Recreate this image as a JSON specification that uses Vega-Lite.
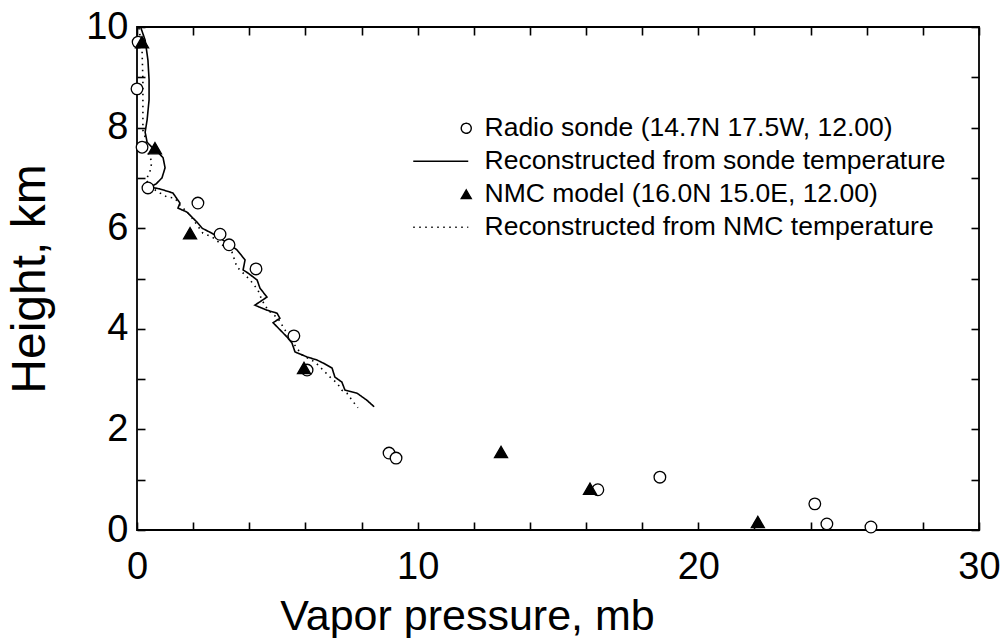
{
  "$schema": "https://vega.github.io/schema/vega-lite/v6.json",
  "width": 842,
  "height": 503,
  "autosize": "none",
  "padding": {"left": 137, "top": 27, "right": 26, "bottom": 108},
  "background": "white",
  "config": {
    "view": {"stroke": "black", "strokeWidth": 1.8},
    "font": "Liberation Sans",
    "axis": {"grid": false, "domain": false, "tickColor": "black", "tickWidth": 1.6, "labelColor": "black", "titleColor": "black", "labelFont": "Liberation Sans", "titleFont": "Liberation Sans", "titleFontWeight": "normal", "labelFlush": false, "labelOverlap": false},
    "legend": {"labelFont": "Liberation Sans", "labelFontSize": 26.5, "labelColor": "black", "labelLimit": 0, "symbolSize": 100, "symbolStrokeColor": "black", "symbolStrokeWidth": 1.4, "padding": 0}
  },
  "datasets": {
    "lines": [
      {"series": "Reconstructed from sonde temperature", "i": 1, "e": 0.14, "h": 9.98},
      {"series": "Reconstructed from sonde temperature", "i": 2, "e": 0.29, "h": 9.74},
      {"series": "Reconstructed from sonde temperature", "i": 3, "e": 0.39, "h": 9.34},
      {"series": "Reconstructed from sonde temperature", "i": 4, "e": 0.43, "h": 8.95},
      {"series": "Reconstructed from sonde temperature", "i": 5, "e": 0.43, "h": 8.55},
      {"series": "Reconstructed from sonde temperature", "i": 6, "e": 0.36, "h": 8.15},
      {"series": "Reconstructed from sonde temperature", "i": 7, "e": 0.29, "h": 7.91},
      {"series": "Reconstructed from sonde temperature", "i": 8, "e": 0.36, "h": 7.71},
      {"series": "Reconstructed from sonde temperature", "i": 9, "e": 0.53, "h": 7.61},
      {"series": "Reconstructed from sonde temperature", "i": 10, "e": 0.75, "h": 7.51},
      {"series": "Reconstructed from sonde temperature", "i": 11, "e": 0.93, "h": 7.40},
      {"series": "Reconstructed from sonde temperature", "i": 12, "e": 1.0, "h": 7.20},
      {"series": "Reconstructed from sonde temperature", "i": 13, "e": 0.89, "h": 7.0},
      {"series": "Reconstructed from sonde temperature", "i": 14, "e": 0.68, "h": 6.88},
      {"series": "Reconstructed from sonde temperature", "i": 15, "e": 0.46, "h": 6.82},
      {"series": "Reconstructed from sonde temperature", "i": 16, "e": 0.82, "h": 6.78},
      {"series": "Reconstructed from sonde temperature", "i": 17, "e": 1.28, "h": 6.70},
      {"series": "Reconstructed from sonde temperature", "i": 18, "e": 1.53, "h": 6.50},
      {"series": "Reconstructed from sonde temperature", "i": 19, "e": 1.46, "h": 6.40},
      {"series": "Reconstructed from sonde temperature", "i": 20, "e": 1.78, "h": 6.32},
      {"series": "Reconstructed from sonde temperature", "i": 21, "e": 2.14, "h": 6.12},
      {"series": "Reconstructed from sonde temperature", "i": 22, "e": 2.32, "h": 6.0},
      {"series": "Reconstructed from sonde temperature", "i": 23, "e": 2.60, "h": 5.92},
      {"series": "Reconstructed from sonde temperature", "i": 24, "e": 2.89, "h": 5.83},
      {"series": "Reconstructed from sonde temperature", "i": 25, "e": 3.21, "h": 5.71},
      {"series": "Reconstructed from sonde temperature", "i": 26, "e": 3.56, "h": 5.57},
      {"series": "Reconstructed from sonde temperature", "i": 27, "e": 3.85, "h": 5.37},
      {"series": "Reconstructed from sonde temperature", "i": 28, "e": 3.78, "h": 5.17},
      {"series": "Reconstructed from sonde temperature", "i": 29, "e": 3.95, "h": 5.11},
      {"series": "Reconstructed from sonde temperature", "i": 30, "e": 4.28, "h": 4.97},
      {"series": "Reconstructed from sonde temperature", "i": 31, "e": 4.38, "h": 4.81},
      {"series": "Reconstructed from sonde temperature", "i": 32, "e": 4.63, "h": 4.63},
      {"series": "Reconstructed from sonde temperature", "i": 33, "e": 4.20, "h": 4.47},
      {"series": "Reconstructed from sonde temperature", "i": 34, "e": 4.63, "h": 4.37},
      {"series": "Reconstructed from sonde temperature", "i": 35, "e": 4.99, "h": 4.31},
      {"series": "Reconstructed from sonde temperature", "i": 36, "e": 5.09, "h": 4.21},
      {"series": "Reconstructed from sonde temperature", "i": 37, "e": 4.85, "h": 4.12},
      {"series": "Reconstructed from sonde temperature", "i": 38, "e": 4.99, "h": 4.04},
      {"series": "Reconstructed from sonde temperature", "i": 39, "e": 5.34, "h": 3.84},
      {"series": "Reconstructed from sonde temperature", "i": 40, "e": 5.52, "h": 3.72},
      {"series": "Reconstructed from sonde temperature", "i": 41, "e": 5.63, "h": 3.54},
      {"series": "Reconstructed from sonde temperature", "i": 42, "e": 6.06, "h": 3.44},
      {"series": "Reconstructed from sonde temperature", "i": 43, "e": 6.41, "h": 3.38},
      {"series": "Reconstructed from sonde temperature", "i": 44, "e": 6.63, "h": 3.32},
      {"series": "Reconstructed from sonde temperature", "i": 45, "e": 6.95, "h": 3.22},
      {"series": "Reconstructed from sonde temperature", "i": 46, "e": 7.05, "h": 3.04},
      {"series": "Reconstructed from sonde temperature", "i": 47, "e": 7.30, "h": 2.94},
      {"series": "Reconstructed from sonde temperature", "i": 48, "e": 7.41, "h": 2.78},
      {"series": "Reconstructed from sonde temperature", "i": 49, "e": 7.84, "h": 2.72},
      {"series": "Reconstructed from sonde temperature", "i": 50, "e": 8.19, "h": 2.58},
      {"series": "Reconstructed from sonde temperature", "i": 51, "e": 8.45, "h": 2.45},
      {"series": "Reconstructed from NMC temperature", "i": 1, "e": 0.07, "h": 9.98},
      {"series": "Reconstructed from NMC temperature", "i": 2, "e": 0.18, "h": 9.54},
      {"series": "Reconstructed from NMC temperature", "i": 3, "e": 0.21, "h": 8.95},
      {"series": "Reconstructed from NMC temperature", "i": 4, "e": 0.21, "h": 8.35},
      {"series": "Reconstructed from NMC temperature", "i": 5, "e": 0.21, "h": 7.95},
      {"series": "Reconstructed from NMC temperature", "i": 6, "e": 0.29, "h": 7.81},
      {"series": "Reconstructed from NMC temperature", "i": 7, "e": 0.39, "h": 7.50},
      {"series": "Reconstructed from NMC temperature", "i": 8, "e": 0.53, "h": 7.32},
      {"series": "Reconstructed from NMC temperature", "i": 9, "e": 0.46, "h": 7.12},
      {"series": "Reconstructed from NMC temperature", "i": 10, "e": 0.32, "h": 6.96},
      {"series": "Reconstructed from NMC temperature", "i": 11, "e": 0.53, "h": 6.80},
      {"series": "Reconstructed from NMC temperature", "i": 12, "e": 0.82, "h": 6.70},
      {"series": "Reconstructed from NMC temperature", "i": 13, "e": 1.07, "h": 6.62},
      {"series": "Reconstructed from NMC temperature", "i": 14, "e": 1.35, "h": 6.60},
      {"series": "Reconstructed from NMC temperature", "i": 15, "e": 1.53, "h": 6.46},
      {"series": "Reconstructed from NMC temperature", "i": 16, "e": 1.89, "h": 6.26},
      {"series": "Reconstructed from NMC temperature", "i": 17, "e": 2.35, "h": 5.90},
      {"series": "Reconstructed from NMC temperature", "i": 18, "e": 2.67, "h": 5.83},
      {"series": "Reconstructed from NMC temperature", "i": 19, "e": 3.03, "h": 5.67},
      {"series": "Reconstructed from NMC temperature", "i": 20, "e": 3.38, "h": 5.53},
      {"series": "Reconstructed from NMC temperature", "i": 21, "e": 3.56, "h": 5.23},
      {"series": "Reconstructed from NMC temperature", "i": 22, "e": 3.67, "h": 5.17},
      {"series": "Reconstructed from NMC temperature", "i": 23, "e": 4.03, "h": 4.97},
      {"series": "Reconstructed from NMC temperature", "i": 24, "e": 4.31, "h": 4.77},
      {"series": "Reconstructed from NMC temperature", "i": 25, "e": 4.45, "h": 4.57},
      {"series": "Reconstructed from NMC temperature", "i": 26, "e": 4.67, "h": 4.37},
      {"series": "Reconstructed from NMC temperature", "i": 27, "e": 5.02, "h": 4.21},
      {"series": "Reconstructed from NMC temperature", "i": 28, "e": 5.27, "h": 3.98},
      {"series": "Reconstructed from NMC temperature", "i": 29, "e": 5.56, "h": 3.72},
      {"series": "Reconstructed from NMC temperature", "i": 30, "e": 5.88, "h": 3.48},
      {"series": "Reconstructed from NMC temperature", "i": 31, "e": 6.34, "h": 3.34},
      {"series": "Reconstructed from NMC temperature", "i": 32, "e": 6.63, "h": 3.18},
      {"series": "Reconstructed from NMC temperature", "i": 33, "e": 6.88, "h": 3.04},
      {"series": "Reconstructed from NMC temperature", "i": 34, "e": 7.13, "h": 2.92},
      {"series": "Reconstructed from NMC temperature", "i": 35, "e": 7.30, "h": 2.78},
      {"series": "Reconstructed from NMC temperature", "i": 36, "e": 7.48, "h": 2.72},
      {"series": "Reconstructed from NMC temperature", "i": 37, "e": 7.66, "h": 2.58},
      {"series": "Reconstructed from NMC temperature", "i": 38, "e": 7.87, "h": 2.43}
    ],
    "pts": [
      {"series": "Radio sonde (14.7N 17.5W, 12.00)", "e": 0.04, "h": 9.70},
      {"series": "Radio sonde (14.7N 17.5W, 12.00)", "e": 0.0, "h": 8.77},
      {"series": "Radio sonde (14.7N 17.5W, 12.00)", "e": 0.18, "h": 7.61},
      {"series": "Radio sonde (14.7N 17.5W, 12.00)", "e": 0.39, "h": 6.80},
      {"series": "Radio sonde (14.7N 17.5W, 12.00)", "e": 2.17, "h": 6.50},
      {"series": "Radio sonde (14.7N 17.5W, 12.00)", "e": 2.96, "h": 5.88},
      {"series": "Radio sonde (14.7N 17.5W, 12.00)", "e": 3.28, "h": 5.67},
      {"series": "Radio sonde (14.7N 17.5W, 12.00)", "e": 4.24, "h": 5.19},
      {"series": "Radio sonde (14.7N 17.5W, 12.00)", "e": 5.59, "h": 3.86},
      {"series": "Radio sonde (14.7N 17.5W, 12.00)", "e": 6.06, "h": 3.18},
      {"series": "Radio sonde (14.7N 17.5W, 12.00)", "e": 8.98, "h": 1.53},
      {"series": "Radio sonde (14.7N 17.5W, 12.00)", "e": 9.23, "h": 1.43},
      {"series": "Radio sonde (14.7N 17.5W, 12.00)", "e": 16.42, "h": 0.80},
      {"series": "Radio sonde (14.7N 17.5W, 12.00)", "e": 18.63, "h": 1.05},
      {"series": "Radio sonde (14.7N 17.5W, 12.00)", "e": 24.15, "h": 0.52},
      {"series": "Radio sonde (14.7N 17.5W, 12.00)", "e": 24.58, "h": 0.12},
      {"series": "Radio sonde (14.7N 17.5W, 12.00)", "e": 26.15, "h": 0.06},
      {"series": "NMC model (16.0N 15.0E, 12.00)", "e": 0.18, "h": 9.70},
      {"series": "NMC model (16.0N 15.0E, 12.00)", "e": 0.64, "h": 7.59},
      {"series": "NMC model (16.0N 15.0E, 12.00)", "e": 1.89, "h": 5.90},
      {"series": "NMC model (16.0N 15.0E, 12.00)", "e": 5.95, "h": 3.22},
      {"series": "NMC model (16.0N 15.0E, 12.00)", "e": 12.97, "h": 1.55},
      {"series": "NMC model (16.0N 15.0E, 12.00)", "e": 16.14, "h": 0.82},
      {"series": "NMC model (16.0N 15.0E, 12.00)", "e": 22.12, "h": 0.16}
    ]
  },
  "layer": [
    {
      "data": {"name": "lines"},
      "mark": {"type": "line", "color": "black", "strokeWidth": 1.6},
      "encoding": {
        "x": {"field": "e", "type": "quantitative", "scale": {"domain": [0, 30], "nice": false},
          "axis": {"orient": "bottom", "values": [0,2,4,6,8,10,12,14,16,18,20,22,24,26,28,30], "labelExpr": "datum.value % 10 === 0 ? datum.label : ''", "tickSize": -8, "labelPadding": 26, "labelFontSize": 38, "title": "Vapor pressure, mb", "titleFontSize": 43, "titlePadding": 9, "titleX": 330, "titleAnchor": "middle"}},
        "y": {"field": "h", "type": "quantitative", "scale": {"domain": [0, 10], "nice": false},
          "axis": {"orient": "left", "values": [0,1,2,3,4,5,6,7,8,9,10], "labelExpr": "datum.value % 2 === 0 ? datum.label : ''", "tickSize": -8, "labelPadding": 17, "labelFontSize": 38, "title": "Height, km", "titleFontSize": 48, "titlePadding": 31}},
        "order": {"field": "i", "type": "quantitative"},
        "strokeDash": {"field": "series", "type": "nominal",
          "scale": {"domain": ["Radio sonde (14.7N 17.5W, 12.00)", "Reconstructed from sonde temperature", "NMC model (16.0N 15.0E, 12.00)", "Reconstructed from NMC temperature"], "range": [[1, 0], [1, 0], [1, 0], [1.5, 4.5]]},
          "legend": {"title": null, "orient": "none", "legendX": 316, "legendY": 88, "labelOffset": 5, "rowPadding": 6, "encode": {"symbols": {"update": {"stroke": {"value": "black"}, "strokeWidth": {"value": 1.4}}}}}}
      }
    },
    {
      "data": {"name": "pts"},
      "mark": {"type": "point", "filled": true, "stroke": "black", "strokeWidth": 1.3, "opacity": 1},
      "encoding": {
        "x": {"field": "e", "type": "quantitative",
          "axis": {"orient": "top", "values": [0,2,4,6,8,10,12,14,16,18,20,22,24,26,28,30], "labels": false, "tickSize": -8, "title": null}},
        "y": {"field": "h", "type": "quantitative",
          "axis": {"orient": "right", "values": [0,1,2,3,4,5,6,7,8,9,10], "labels": false, "tickSize": -8, "title": null}},
        "size": {"condition": {"test": "datum.series === 'NMC model (16.0N 15.0E, 12.00)'", "value": 170}, "value": 135},
        "shape": {"field": "series", "type": "nominal",
          "scale": {"domain": ["Radio sonde (14.7N 17.5W, 12.00)", "Reconstructed from sonde temperature", "NMC model (16.0N 15.0E, 12.00)", "Reconstructed from NMC temperature"], "range": ["circle", "M-10.6,0H0.4", "triangle-up", "M-10.6,0H0.4"]},
          "legend": {"title": null, "orient": "none", "legendX": 316, "legendY": 88, "labelOffset": 5, "rowPadding": 6, "encode": {"symbols": {"update": {"stroke": {"value": "black"}, "strokeWidth": {"value": 1.4}}}}}},
        "fill": {"field": "series", "type": "nominal",
          "scale": {"domain": ["Radio sonde (14.7N 17.5W, 12.00)", "Reconstructed from sonde temperature", "NMC model (16.0N 15.0E, 12.00)", "Reconstructed from NMC temperature"], "range": ["white", "black", "black", "black"]},
          "legend": {"title": null, "orient": "none", "legendX": 316, "legendY": 88, "labelOffset": 5, "rowPadding": 6, "encode": {"symbols": {"update": {"stroke": {"value": "black"}, "strokeWidth": {"value": 1.4}}}}}}
      }
    }
  ]
}
